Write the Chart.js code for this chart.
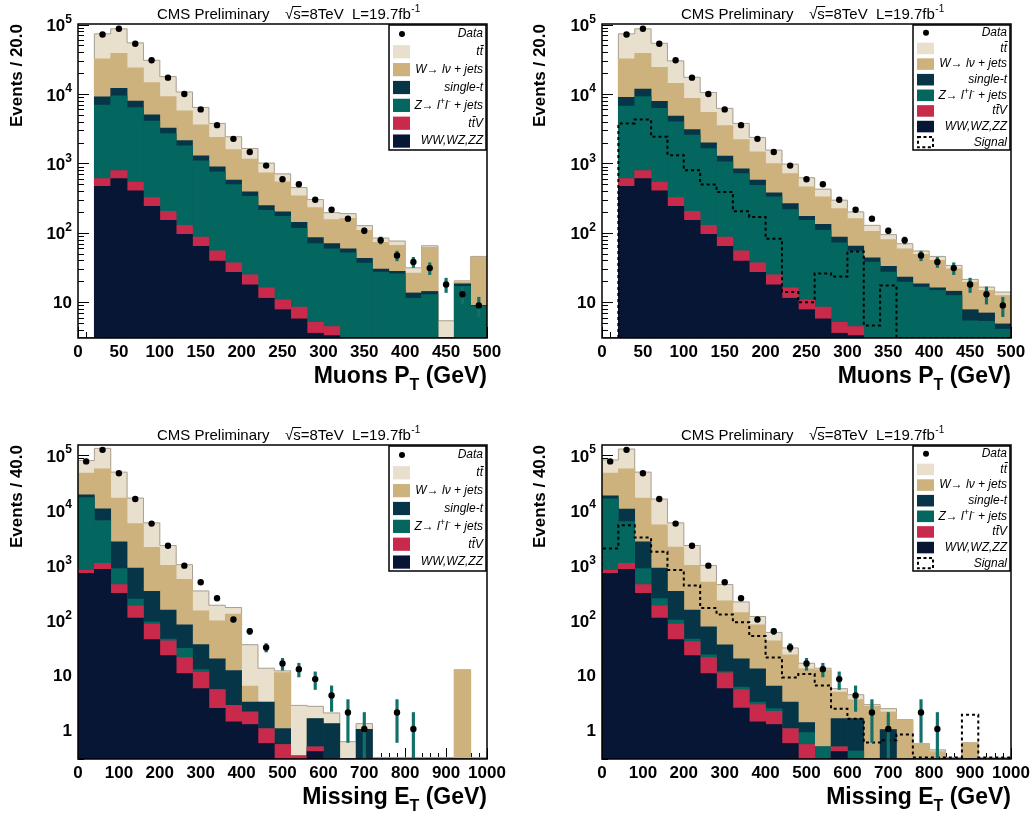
<!DOCTYPE html>
<html>
<head>
<meta charset="utf-8">
<title>CMS Preliminary - muon pT and missing ET</title>
<script src="https://cdn.jsdelivr.net/npm/chart.js@4.4.1/dist/chart.umd.min.js"></script>
<style>
  html, body { margin: 0; padding: 0; background: #fff; }
  #page { position: relative; width: 1031px; height: 815px; overflow: hidden; }
  .pad { position: absolute; }
</style>
</head>
<body>
<div id="page">
  <div class="pad" style="left:0;top:0;width:515px;height:407px"><canvas id="ptLeft"></canvas></div>
  <div class="pad" style="left:515px;top:0;width:516px;height:407px"><canvas id="ptRight"></canvas></div>
  <div class="pad" style="left:0;top:407px;width:515px;height:408px"><canvas id="metLeft"></canvas></div>
  <div class="pad" style="left:515px;top:407px;width:516px;height:408px"><canvas id="metRight"></canvas></div>
</div>
<script>
const FONT = '"Liberation Sans", Arial, Helvetica, sans-serif';

// texts
const headerText = ['CMS Preliminary', '\u221As=8TeV', 'L=19.7fb', '-1'];
const ptTitle = ['Muons P', 'T', ' (GeV)'];
const metTitle = ['Missing E', 'T', ' (GeV)'];
const ptYTitle = 'Events / 20.0';
const metYTitle = 'Events / 40.0';

// y tick labels on the log axis
const yTickValues = [1, 10, 100, 1000, 10000, 100000];
const yTickBase = ['1', '10', '10', '10', '10', '10'];
const yTickExp = ['', '', '2', '3', '4', '5'];

// legend labels, ^{..} marks a superscript
const labels = {
  data: 'Data', tt: 'tt\u0304', w: 'W\u2192 l\u03bd + jets', st: 'single-t',
  z: 'Z\u2192 l^{+}l^{-} + jets', ttv: 'tt\u0304V', vv: 'WW,WZ,ZZ', signal: 'Signal'
};
const colors = { tt: '#e9dfcd', w: '#cdb27d', st: '#063547', z: '#03665f', ttv: '#c9294a', vv: '#061634' };

// ---- muon pT, 20 GeV bins (bin centres) ----
const ptBins = [10, 30, 50, 70, 90, 110, 130, 150, 170, 190, 210, 230, 250, 270, 290, 310, 330, 350, 370, 390, 410, 430, 450, 470, 490];
const ptData = [null, 72000, 87000, 53000, 30600, 17200, 10000, 6000, 3560, 2260, 1460, 930, 590, 500, 300, 215, 160, 107, 78, 47, 38, 31, 18, 13, 9];
const ptErr = [0, 270, 295, 230, 175, 131, 100, 77, 60, 48, 38, 30, 24, 22, 17, 15, 13, 10, 9, 7.5, 6.3, 6, 4.2, 3.6, 2.8];

// stacked histograms: each array is the top edge of that layer (layer + everything below it)
const ptLeftTT = [0, 73600, 86900, 54500, 30600, 17800, 10700, 6400, 3770, 2420, 1640, 1010, 707, 449, 301, 195, 189, 127, 84, 76, 31.3, 65, 5.4, 20.3, 45.7];
const ptLeftW = [0, 32000, 38600, 23800, 14600, 9150, 5740, 3600, 2370, 1580, 1150, 731, 542, 340, 231, 155, 162, 109, 73, 66, 26.2, 61.7, 0, 19.5, 44.7];
const ptLeftST = [0, 9100, 12100, 7900, 5000, 3230, 2140, 1290, 890, 573, 388, 246, 200, 142, 85, 70, 59, 43, 30, 27.8, 13.6, 14.3, 0, 18.4, 9];
const ptLeftZ = [0, 6900, 9400, 6350, 4080, 2700, 1790, 1090, 756, 496, 336, 211, 173, 116, 70, 59, 51.6, 36.6, 27.2, 25.7, 11.4, 12.9, 0, 16.9, 8.7];
const ptLeftTTV = [0, 605, 790, 536, 321, 204, 128, 87, 55, 37, 24.8, 16.1, 10.8, 8.5, 5.15, 4.46, 0, 0, 0, 0, 0, 0, 0, 0, 0];
const ptLeftVV = [0, 469, 605, 402, 241, 151, 95, 64, 39, 27, 17.8, 11.4, 7.8, 5.75, 3.57, 3.3, 0, 0, 0, 0, 0, 0, 0, 0, 0];

const ptRightTT = [0, 73600, 86900, 53900, 30000, 17400, 10500, 6210, 3770, 2370, 1550, 975, 620, 425, 295, 200, 128, 94, 69.7, 54.6, 45.7, 33.9, 21.3, 16.5, 14];
const ptRightW = [0, 32000, 38600, 24300, 14300, 8650, 5430, 3520, 2210, 1470, 998, 715, 459, 329, 223, 160, 105, 79.6, 59, 48.9, 40, 30.3, 19.5, 14.8, 12.5];
const ptRightST = [0, 8950, 11800, 7830, 4810, 3060, 1980, 1270, 834, 573, 376, 264, 173, 132, 87, 64.4, 43.7, 32.8, 23, 18.4, 16.1, 14.4, 7.8, 7, 4.87];
const ptRightZ = [0, 6710, 9150, 6210, 3980, 2560, 1640, 1050, 715, 485, 329, 216, 151, 109, 72, 54.6, 37.9, 27.2, 19.5, 16.5, 14.8, 12.5, 5.4, 5.3, 4.1];
const ptRightTTV = [0, 605, 790, 536, 321, 204, 128, 87, 55, 37, 24.8, 16.1, 10.8, 8.5, 5.15, 4.46, 0, 0, 0, 0, 0, 0, 0, 0, 0];
const ptRightVV = [0, 469, 605, 402, 241, 151, 95, 64, 39, 27, 17.8, 11.4, 7.8, 5.75, 3.57, 3.3, 0, 0, 0, 0, 0, 0, 0, 0, 0];
const ptSignal = [0, 3770, 4300, 2420, 1316, 798, 496, 388, 204, 169, 82, 14, 10, 26, 23.5, 54, 4.6, 17.4, 0, 0, 0, 0, 0, 0, 0];

// ---- missing ET, 40 GeV bins ----
const metBins = [20, 60, 100, 140, 180, 220, 260, 300, 340, 380, 420, 460, 500, 540, 580, 620, 660, 700, 740, 780, 820, 860, 900, 940, 980];
const metData = [77000, 125000, 47000, 16000, 5700, 2250, 980, 490, 250, 103, 63, 32, 16.3, 12.9, 8.5, 4.3, 2.1, 1.05, null, 2.1, 1.05, null, null, null, null];
const metErr = [280, 350, 215, 126, 75, 47, 31, 22, 16, 10, 8, 5.6, 4, 3.6, 3, 2.1, 1.5, 1.05, 0, 1.5, 1.05, 0, 0, 0, 0];

const metLeftTT = [80000, 133000, 49100, 16600, 5870, 2280, 1020, 340, 187, 170, 35.9, 13.4, 12, 2.83, 2.72, 2.06, 0.62, 1.32, 0, 0, 0, 0, 0, 12.5, 0];
const metLeftW = [47100, 56300, 16600, 5700, 2120, 991, 553, 148, 97.5, 129, 6.35, 3.26, 11.2, 0.34, 1.63, 1.32, 0, 1.04, 0, 0, 0, 0, 0, 12.5, 0];
const metLeftST = [19000, 10600, 2660, 887, 336, 152, 82.6, 35.9, 19.8, 12.2, 3.26, 3.26, 1.07, 0.34, 1.63, 1.32, 0, 1.04, 0, 0, 0, 0, 0, 0, 0];
const metLeftZ = [17000, 6460, 864, 241, 93.5, 45.5, 30.9, 12.7, 5.5, 2.83, 2.15, 1.07, 0.55, 0.34, 0.5, 0, 0, 0, 0, 0, 0, 0, 0, 0, 0];
const metLeftTTV = [815, 1080, 444, 182, 85, 42.4, 20.9, 11.4, 5.5, 2.83, 2.15, 1.07, 0.55, 0.34, 0.5, 0, 0, 0, 0, 0, 0, 0, 0, 0, 0];
const metLeftVV = [711, 840, 309, 109, 44.3, 22.7, 10.7, 5.7, 2.5, 1.42, 1.27, 0.575, 0, 0, 0.41, 0, 0, 0, 0, 0, 0, 0, 0, 0, 0];

const metRightTT = [81900, 129000, 49100, 15900, 5870, 2280, 991, 444, 215, 117, 60, 31.3, 16.5, 13.4, 5.7, 4.42, 2.92, 2.47, 1.56, 0.575, 0.44, 0, 0.59, 0, 0];
const metRightW = [47100, 56300, 16600, 5400, 2130, 991, 494, 224, 138, 82.6, 42.4, 23.4, 13.1, 12.5, 4.94, 3.59, 2.72, 2.15, 1.56, 0.575, 0.41, 0, 0.59, 0, 0];
const metRightST = [18300, 10500, 2660, 887, 336, 152, 76, 35.5, 19.8, 13.1, 6.35, 3.26, 1.38, 0.5, 1.63, 1.63, 0, 1.03, 0, 0, 0, 0, 0, 0, 0];
const metRightZ = [16100, 6190, 864, 248, 100, 45.5, 23.4, 11.7, 6.1, 3.26, 2.47, 1.07, 0.91, 0.5, 0.5, 0.42, 0, 0, 0, 0, 0, 0, 0, 0, 0];
const metRightTTV = [815, 1080, 444, 182, 85, 40.7, 20.9, 11, 5.5, 2.92, 2.21, 1.07, 0.55, 0, 0.5, 0, 0, 0, 0, 0, 0, 0, 0, 0, 0];
const metRightVV = [711, 840, 309, 109, 44.3, 22.7, 10.7, 5.7, 2.54, 1.42, 1.27, 0.575, 0, 0, 0.41, 0, 0, 0, 0, 0, 0, 0, 0, 0, 0];
const metSignal = [2010, 5300, 3170, 1750, 818, 427, 167, 127, 92, 51.5, 21, 9.1, 10.5, 6.5, 2.46, 1.62, 0.6, 0.66, 0.84, 0, 0, 0, 1.92, 0, 0];

// histogram outline as a stepped line through the bin edges
function stepPoints(bins, width, vals, floor) {
  const first = vals.findIndex(v => v > 0);
  const last = vals.length - 1;
  const pts = [{ x: bins[first] - width / 2, y: floor }];
  for (let i = first; i <= last; i++) {
    pts.push({ x: bins[i] - width / 2, y: vals[i] > 0 ? vals[i] : floor });
  }
  pts.push({ x: bins[last] + width / 2, y: vals[last] > 0 ? vals[last] : floor });
  pts.push({ x: bins[last] + width / 2, y: floor });
  return pts;
}

// split "a^{b}c" into plain / superscript pieces
function richParts(s) {
  const parts = [];
  const re = /\^\{([^}]*)\}/g;
  let last = 0, m;
  while ((m = re.exec(s))) {
    if (m.index > last) parts.push({ t: s.slice(last, m.index), sup: false });
    parts.push({ t: m[1], sup: true });
    last = re.lastIndex;
  }
  if (last < s.length) parts.push({ t: s.slice(last), sup: false });
  return parts;
}

function drawRightAligned(ctx, text, xr, cy) {
  const normal = 'italic 12px ' + FONT, sup = 'italic 9px ' + FONT;
  const parts = richParts(text);
  let total = 0;
  parts.forEach(p => { ctx.font = p.sup ? sup : normal; p.w = ctx.measureText(p.t).width; total += p.w; });
  let x = xr - total;
  ctx.textAlign = 'left';
  ctx.textBaseline = 'middle';
  parts.forEach(p => {
    ctx.font = p.sup ? sup : normal;
    ctx.fillText(p.t, x, p.sup ? cy - 4 : cy);
    x += p.w;
  });
}

const cmsPad = {
  id: 'cmsPad',
  beforeDatasetsDraw(chart, args, o) {
    // ROOT style ticks inside the frame, hidden behind the histograms
    const { ctx, chartArea: a } = chart;
    const y = chart.scales.y, xv = chart.scales.xv;
    ctx.save();
    ctx.strokeStyle = '#000';
    ctx.lineWidth = 1;
    ctx.beginPath();
    const d0 = Math.floor(Math.log10(y.min)), d1 = Math.ceil(Math.log10(y.max));
    for (let d = d0; d <= d1; d++) {
      for (let m = 1; m <= 9; m++) {
        const v = m * Math.pow(10, d);
        if (v < y.min || v > y.max) continue;
        const py = Math.round(y.getPixelForValue(v)) + 0.5;
        ctx.moveTo(a.left, py);
        ctx.lineTo(a.left + (m === 1 ? 11 : 6), py);
      }
    }
    const n = Math.round((xv.max - xv.min) / o.xMinor);
    for (let i = 0; i <= n; i++) {
      const v = xv.min + i * o.xMinor;
      const px = Math.round(xv.getPixelForValue(v)) + 0.5;
      const major = Math.abs(v / o.xMajor - Math.round(v / o.xMajor)) < 1e-6;
      ctx.moveTo(px, a.bottom);
      ctx.lineTo(px, a.bottom - (major ? 11 : 6));
    }
    ctx.stroke();
    ctx.restore();
  },
  afterDraw(chart, args, o) {
    const { ctx, chartArea: a } = chart;
    const y = chart.scales.y;
    ctx.save();

    // frame
    ctx.lineWidth = 1.5;
    ctx.strokeStyle = '#000';
    ctx.strokeRect(a.left, a.top, a.right - a.left, a.bottom - a.top);

    // y tick labels with superscript exponents
    ctx.fillStyle = '#000';
    ctx.textBaseline = 'middle';
    ctx.textAlign = 'right';
    yTickValues.forEach((v, i) => {
      if (v < y.min || v > y.max * 1.001) return;
      const py = y.getPixelForValue(v);
      let xr = a.left - 6;
      if (yTickExp[i]) {
        ctx.font = 'bold 12px ' + FONT;
        ctx.fillText(yTickExp[i], xr, py - 5);
        xr -= ctx.measureText(yTickExp[i]).width;
      }
      ctx.font = 'bold 17px ' + FONT;
      ctx.fillText(yTickBase[i], xr, py + (yTickExp[i] ? 2 : 1));
    });

    // header
    ctx.textAlign = 'left';
    ctx.textBaseline = 'alphabetic';
    ctx.font = '15px ' + FONT;
    const hb = a.top - 5;
    ctx.fillText(headerText[0], a.left + 79, hb);
    const sx = a.left + 207;
    ctx.fillText(headerText[1], sx, hb);
    const rw = ctx.measureText('\u221A').width, sw = ctx.measureText('\u221As').width;
    ctx.lineWidth = 1;
    ctx.beginPath();
    ctx.moveTo(sx + rw - 1, hb - 12.5);
    ctx.lineTo(sx + sw + 0.5, hb - 12.5);
    ctx.stroke();
    const lx = a.left + 274;
    ctx.fillText(headerText[2], lx, hb);
    const lw = ctx.measureText(headerText[2]).width;
    ctx.font = '10px ' + FONT;
    ctx.fillText(headerText[3], lx + lw + 0.5, hb - 7);

    // x axis title with subscript
    const [t1, t2, t3] = o.xTitle;
    const big = 'bold 23px ' + FONT, small = 'bold 16px ' + FONT;
    ctx.font = big;
    const w1 = ctx.measureText(t1).width, w3 = ctx.measureText(t3).width;
    ctx.font = small;
    const w2 = ctx.measureText(t2).width;
    const x0 = a.right - (w1 + w2 + w3);
    const base = a.bottom + 45;
    ctx.font = big;
    ctx.fillText(t1, x0, base);
    ctx.font = small;
    ctx.fillText(t2, x0 + w1, base + 7);
    ctx.font = big;
    ctx.fillText(t3, x0 + w1 + w2, base);

    // legend box
    const rows = o.legend;
    const bx = a.right - 98, bw = 97, by = a.top + 1, bh = 125;
    ctx.fillStyle = '#fff';
    ctx.fillRect(bx, by, bw, bh);
    ctx.lineWidth = 1.5;
    ctx.strokeStyle = '#000';
    ctx.strokeRect(bx, by, bw, bh);
    const rh = bh / rows.length;
    rows.forEach((r, i) => {
      const cy = by + (i + 0.5) * rh;
      if (r.kind === 'dot') {
        ctx.fillStyle = '#000';
        ctx.beginPath();
        ctx.arc(bx + 13, cy, 3, 0, Math.PI * 2);
        ctx.fill();
      } else if (r.kind === 'fill') {
        ctx.fillStyle = r.color;
        ctx.fillRect(bx + 4, cy - rh * 0.37, 17, rh * 0.74);
      } else {
        ctx.setLineDash([3, 2.5]);
        ctx.lineWidth = 2;
        ctx.strokeRect(bx + 5, cy - rh * 0.33, 15, rh * 0.66);
        ctx.setLineDash([]);
      }
      ctx.fillStyle = '#000';
      drawRightAligned(ctx, r.label, bx + bw - 3, cy);
    });
    ctx.restore();
  }
};

function makePanel(id, p) {
  const floor = p.yMin;
  const datasets = [];
  const pts = [];
  p.bins.forEach((c, i) => { if (p.data[i] != null) pts.push({ x: c, y: p.data[i] }); });

  datasets.push({
    type: 'scatter', label: labels.data, xAxisID: 'xv', data: pts,
    pointRadius: 3.2, pointBackgroundColor: '#000', pointBorderWidth: 0, order: 0
  });
  datasets.push({
    type: 'bar', label: 'Data error', xAxisID: 'x',
    data: p.data.map((v, i) => v == null ? null : [Math.max(v - p.err[i], floor / 10), v + p.err[i]]),
    backgroundColor: '#127069', barThickness: 2.5, grouped: false, order: 1
  });
  if (p.signal) {
    datasets.push({
      type: 'line', label: labels.signal, xAxisID: 'xv',
      data: stepPoints(p.bins, p.binWidth, p.signal, floor),
      borderColor: '#000', borderWidth: 2, borderDash: [3, 3], stepped: true,
      pointRadius: 0, fill: false, order: 2
    });
  }
  const nStack = p.stack.length;
  p.stack.forEach((s, i) => {
    datasets.push({
      type: 'bar', label: s.label, xAxisID: 'x', data: s.data,
      backgroundColor: s.color, borderWidth: 0, grouped: false,
      barPercentage: 1, categoryPercentage: 1, order: 10 + (nStack - 1 - i)
    });
  });
  // outline of the full stack
  datasets.push({
    type: 'line', label: 'stack outline', xAxisID: 'xv',
    data: stepPoints(p.bins, p.binWidth, p.stack[0].data, floor),
    borderColor: '#a9a093', borderWidth: 1, stepped: true, pointRadius: 0, fill: false,
    order: 10 + nStack - 1.5
  });

  const legendRows = [{ label: labels.data, kind: 'dot' }]
    .concat(p.stack.map(s => ({ label: s.label, kind: 'fill', color: s.color })));
  if (p.signal) legendRows.push({ label: labels.signal, kind: 'dash' });

  const axisFont = { family: FONT, size: 17, weight: 'bold' };

  return new Chart(document.getElementById(id), {
    type: 'bar',
    data: { labels: p.bins.map(String), datasets },
    options: {
      responsive: true,
      maintainAspectRatio: false,
      animation: false,
      events: [],
      layout: { padding: { top: p.area.top, right: p.width - p.area.right, left: 0, bottom: 0 } },
      plugins: {
        legend: { display: false },
        tooltip: { enabled: false },
        title: { display: false },
        cmsPad: { xTitle: p.xTitle, xMajor: p.xMajor, xMinor: p.xMinor, legend: legendRows }
      },
      scales: {
        x: { type: 'category', offset: true, display: false },
        xv: {
          type: 'linear', position: 'bottom', min: 0, max: p.xMax, offset: false,
          grid: { display: false, drawTicks: false },
          border: { display: false },
          ticks: {
            stepSize: p.xMajor, autoSkip: false, maxRotation: 0, minRotation: 0, padding: 4,
            color: '#000', font: axisFont, callback: v => String(v)
          },
          afterFit: s => { s.height = p.height - p.area.bottom; s.paddingLeft = 0; s.paddingRight = 0; }
        },
        y: {
          type: 'logarithmic', position: 'left', min: p.yMin, max: p.yMax,
          grid: { display: false, drawTicks: false },
          border: { display: false },
          ticks: { display: false },
          title: { display: true, text: p.yTitle, align: 'end', color: '#000', font: axisFont, padding: { top: p.yTitlePad, bottom: 0 } },
          afterFit: s => { s.width = p.area.left; }
        }
      }
    },
    plugins: [cmsPad]
  });
}

function stackOf(tt, w, st, z, ttv, vv) {
  return [
    { label: labels.tt, color: colors.tt, data: tt },
    { label: labels.w, color: colors.w, data: w },
    { label: labels.st, color: colors.st, data: st },
    { label: labels.z, color: colors.z, data: z },
    { label: labels.ttv, color: colors.ttv, data: ttv },
    { label: labels.vv, color: colors.vv, data: vv }
  ];
}

const ptAxis = { bins: ptBins, binWidth: 20, xMax: 500, xMajor: 50, xMinor: 10, yMin: 3.05, yMax: 102000, yTitle: ptYTitle, xTitle: ptTitle, data: ptData, err: ptErr };
const metAxis = { bins: metBins, binWidth: 40, xMax: 1000, xMajor: 100, xMinor: 20, yMin: 0.32, yMax: 153000, yTitle: metYTitle, xTitle: metTitle, data: metData, err: metErr };

makePanel('ptLeft', Object.assign({}, ptAxis, {
  width: 515, height: 407, area: { left: 78, right: 487, top: 24, bottom: 338 }, yTitlePad: 7,
  stack: stackOf(ptLeftTT, ptLeftW, ptLeftST, ptLeftZ, ptLeftTTV, ptLeftVV)
}));
makePanel('ptRight', Object.assign({}, ptAxis, {
  width: 516, height: 407, area: { left: 87, right: 496, top: 24, bottom: 338 }, yTitlePad: 15,
  stack: stackOf(ptRightTT, ptRightW, ptRightST, ptRightZ, ptRightTTV, ptRightVV), signal: ptSignal
}));
makePanel('metLeft', Object.assign({}, metAxis, {
  width: 515, height: 408, area: { left: 78, right: 487, top: 38, bottom: 352 }, yTitlePad: 7,
  stack: stackOf(metLeftTT, metLeftW, metLeftST, metLeftZ, metLeftTTV, metLeftVV)
}));
makePanel('metRight', Object.assign({}, metAxis, {
  width: 516, height: 408, area: { left: 87, right: 496, top: 38, bottom: 352 }, yTitlePad: 15,
  stack: stackOf(metRightTT, metRightW, metRightST, metRightZ, metRightTTV, metRightVV), signal: metSignal
}));
</script>
</body>
</html>
